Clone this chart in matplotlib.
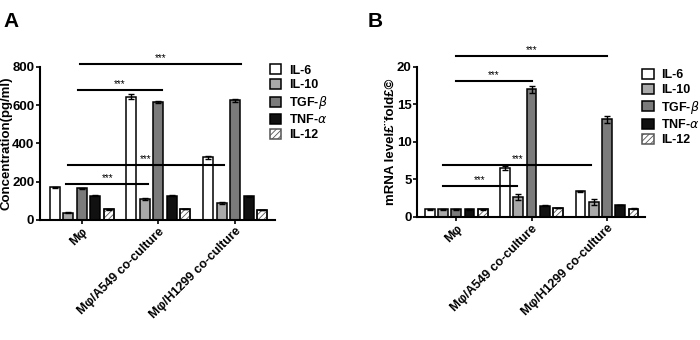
import numpy as np
import matplotlib
matplotlib.use("Agg")
import matplotlib.pyplot as plt

plt.rcParams["font.family"] = ["Liberation Sans", "DejaVu Sans"]
plt.rcParams["hatch.linewidth"] = 0.6

# ===== 데이터 =====
groups = ["Mφ", "Mφ/A549 co-culture", "Mφ/H1299 co-culture"]
cytokines = ["IL-6", "IL-10", "TGF-$\\beta$", "TNF-$\\alpha$", "IL-12"]

conc_il6 = [170, 645, 328]
conc_il10 = [38, 112, 88]
conc_tgf = [165, 618, 625]
conc_tnf = [128, 128, 125]
conc_il12 = [55, 57, 52]
conc_err = [[4, 12, 8], [3, 5, 4], [4, 6, 10], [3, 3, 3], [2, 2, 2]]

mrna_il6 = [1.0, 6.5, 3.4]
mrna_il10 = [1.0, 2.7, 2.0]
mrna_tgf = [1.0, 17.0, 13.0]
mrna_tnf = [1.0, 1.5, 1.6]
mrna_il12 = [1.0, 1.2, 1.1]
mrna_err = [[0.05, 0.3, 0.1], [0.05, 0.4, 0.4], [0.05, 0.5, 0.5], [0.05, 0.05, 0.05], [0.05, 0.05, 0.05]]

# 유의성 표시선: (x0, x1, y)
sig_a = [(-0.02, 2.08, 815), (-0.05, 1.04, 680), (-0.18, 1.85, 290), (-0.2, 0.87, 190)]
sig_b = [(0.0, 2.0, 21.5), (0.0, 1.0, 18.1), (-0.17, 1.79, 6.9), (-0.17, 0.8, 4.1)]

colors = ["white", "#a9a9a9", "#7b7b7b", "#111111", "white"]
hatches = [None, None, None, None, "//////"]


def draw(ax, series, errs, sigs, ylim, yticks, ylabel, xlim, leg_xy):
    x = np.arange(len(groups))
    pitch, w = 0.176, 0.13
    for i, (vals, err) in enumerate(zip(series, errs)):
        ax.bar(x + (i - 2) * pitch, vals, w, yerr=err, color=colors[i], hatch=hatches[i],
               edgecolor="black" if i != 4 else "#555555", linewidth=1.1, label=cytokines[i],
               error_kw=dict(ecolor="black", elinewidth=1.0, capsize=2.5, capthick=1.0))
        if i == 4:
            ax.bar(x + (i - 2) * pitch, vals, w, color="none", edgecolor="black", linewidth=1.1)
    ax.set_ylim(*ylim)
    ax.set_xlim(*xlim)
    ax.set_yticks(yticks)
    ax.set_xticks(x)
    ax.set_xticklabels(groups, rotation=45, ha="right", rotation_mode="anchor",
                       fontweight="bold", fontsize=9)
    for t in ax.get_yticklabels():
        t.set_fontweight("bold")
        t.set_fontsize(9.5)
    ax.set_ylabel(ylabel, fontweight="bold", fontsize=9.5, labelpad=0)
    ax.spines["top"].set_visible(False)
    ax.spines["right"].set_visible(False)
    for s in ("left", "bottom"):
        ax.spines[s].set_linewidth(1.5)
    ax.tick_params(width=1.2, length=3, pad=1)
    for x0, x1, y in sigs:
        ax.plot([x0, x1], [y, y], color="black", lw=1.5, clip_on=False)
        ax.text((x0 + x1) / 2, y + (ylim[1] - ylim[0]) * 0.005, "***", ha="center", va="bottom",
                fontsize=7, clip_on=False)
    leg = ax.legend(loc="upper left", bbox_to_anchor=leg_xy, frameon=False, fontsize=9,
                    handlelength=0.95, handleheight=0.85, handletextpad=0.6, labelspacing=0.2,
                    borderaxespad=0)
    for t in leg.get_texts():
        t.set_fontweight("bold")


fig = plt.figure(figsize=(7, 3.4), dpi=100)
ax1 = fig.add_axes([0.057, 0.353, 0.336, 0.450])
ax2 = fig.add_axes([0.596, 0.362, 0.325, 0.441])

draw(ax1, [conc_il6, conc_il10, conc_tgf, conc_tnf, conc_il12], conc_err, sig_a,
     (0, 800), [0, 200, 400, 600, 800], "Concentration(pg/ml)", (-0.545, 2.52), (0.955, 1.05))
draw(ax2, [mrna_il6, mrna_il10, mrna_tgf, mrna_tnf, mrna_il12], mrna_err, sig_b,
     (0, 20), [0, 5, 10, 15, 20], "mRNA level£¨fold£©", (-0.517, 2.5), (0.965, 1.02))

fig.text(0.005, 0.965, "A", fontsize=15, fontweight="bold", va="top")
fig.text(0.525, 0.965, "B", fontsize=15, fontweight="bold", va="top")

fig.savefig("out.png", dpi=100)
